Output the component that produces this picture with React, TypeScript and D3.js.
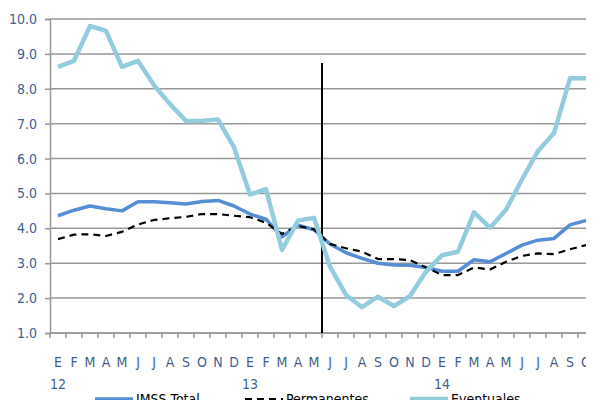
import React, { useEffect, useRef } from "react";
import * as d3 from "d3";

const months = ["E","F","M","A","M","J","J","A","S","O","N","D","E","F","M","A","M","J","J","A","S","O","N","D","E","F","M","A","M","J","J","A","S","O"];
const years = [{ idx: 0, label: "12" }, { idx: 12, label: "13" }, { idx: 24, label: "14" }];

const imssTotal = [4.36, 4.52, 4.64, 4.56, 4.5, 4.76, 4.76, 4.73, 4.7, 4.77, 4.8, 4.64, 4.41, 4.26, 3.76, 4.09, 3.96, 3.55, 3.3, 3.14, 3.0, 2.95, 2.94, 2.88, 2.77, 2.77, 3.1, 3.04, 3.28, 3.52, 3.66, 3.71, 4.1, 4.23];
const permanentes = [3.69, 3.82, 3.83, 3.78, 3.9, 4.11, 4.24, 4.29, 4.33, 4.41, 4.41, 4.36, 4.32, 4.16, 3.84, 4.07, 3.97, 3.55, 3.43, 3.33, 3.12, 3.12, 3.09, 2.88, 2.66, 2.66, 2.88, 2.82, 3.04, 3.21, 3.28, 3.26, 3.4, 3.52];
const eventuales = [8.63, 8.8, 9.8, 9.66, 8.63, 8.8, 8.1, 7.56, 7.08, 7.08, 7.12, 6.32, 4.97, 5.12, 3.38, 4.22, 4.3, 2.9, 2.09, 1.74, 2.04, 1.77, 2.06, 2.76, 3.23, 3.33, 4.46, 4.02, 4.53, 5.4, 6.22, 6.73, 8.3, 8.3];
const yTicks = [1, 2, 3, 4, 5, 6, 7, 8, 9, 10];

const series = [
  { name: "IMSS Total", values: imssTotal, color: "#558ed5", width: 3.5, dash: "" },
  { name: "Permanentes", values: permanentes, color: "#000000", width: 2.2, dash: "7,5" },
  { name: "Eventuales", values: eventuales, color: "#93cddd", width: 4.5, dash: "" },
];

const W = 594;
const H = 408;
const font = "'DejaVu Sans Condensed', 'Liberation Sans Narrow', 'Open Sans', sans-serif";
const textColor = "#3d5f91";

const Chart = () => {
  const ref = useRef<SVGSVGElement>(null);

  useEffect(() => {
    const svg = d3.select(ref.current);
    svg.selectAll("*").remove();

    const left = 50;
    const right = 594;
    const top = 19;
    const bottom = 333;

    const x = d3.scaleBand<number>().domain(d3.range(months.length)).range([left, right]);
    const y = d3.scaleLinear().domain([1, 10]).range([bottom, top]);
    const cx = (i: number) => (x(i) as number) + x.bandwidth() / 2;

    // gridlines
    svg
      .append("g")
      .selectAll("line")
      .data(yTicks)
      .enter()
      .append("line")
      .attr("x1", left)
      .attr("x2", right)
      .attr("y1", (d) => y(d))
      .attr("y2", (d) => y(d))
      .attr("stroke", "#989898")
      .attr("stroke-width", 1.5);

    // y axis
    const yAxis = d3
      .axisLeft(y)
      .tickValues(yTicks)
      .tickSize(5)
      .tickFormat((d) => (d as number).toFixed(1));
    const yg = svg.append("g").attr("transform", `translate(${left},0)`).call(yAxis);
    yg.select(".domain").attr("stroke", "#989898").attr("stroke-width", 1.5);
    yg.selectAll(".tick line").attr("stroke", "#989898").attr("stroke-width", 1.5);
    yg.selectAll("text")
      .attr("x", -13)
      .attr("fill", textColor)
      .style("font-family", font)
      .style("font-size", "14px");

    // x axis
    const xg = svg.append("g").attr("transform", `translate(0,${bottom})`);
    xg.append("line").attr("x1", left).attr("x2", right).attr("stroke", "#989898").attr("stroke-width", 1.5);
    xg.selectAll("line.tk")
      .data(d3.range(months.length + 1))
      .enter()
      .append("line")
      .attr("class", "tk")
      .attr("x1", (d) => left + d * x.bandwidth())
      .attr("x2", (d) => left + d * x.bandwidth())
      .attr("y1", 0)
      .attr("y2", 5)
      .attr("stroke", "#989898")
      .attr("stroke-width", 1.5);
    xg.selectAll("text.m")
      .data(months)
      .enter()
      .append("text")
      .attr("class", "m")
      .attr("x", (_, i) => cx(i))
      .attr("y", 34)
      .attr("text-anchor", "middle")
      .attr("fill", textColor)
      .style("font-family", font)
      .style("font-size", "14px")
      .text((d) => d);
    xg.selectAll("text.yr")
      .data(years)
      .enter()
      .append("text")
      .attr("class", "yr")
      .attr("x", (d) => cx(d.idx))
      .attr("y", 56)
      .attr("text-anchor", "middle")
      .attr("fill", textColor)
      .style("font-family", font)
      .style("font-size", "14px")
      .text((d) => d.label);

    // vertical marker between May and Jun 2013
    const mx = left + 17 * x.bandwidth();
    svg.append("line").attr("x1", mx).attr("x2", mx).attr("y1", 63).attr("y2", bottom).attr("stroke", "#000").attr("stroke-width", 2);

    // lines
    const line = d3
      .line<number>()
      .x((_, i) => cx(i))
      .y((d) => y(d));
    series.forEach((s) => {
      svg
        .append("path")
        .datum(s.values)
        .attr("fill", "none")
        .attr("stroke", s.color)
        .attr("stroke-width", s.width)
        .attr("stroke-dasharray", s.dash || null)
        .attr("stroke-linejoin", "round")
        .attr("d", line);
    });

    // legend
    const legendX = [95, 245, 410];
    const lg = svg.append("g").attr("transform", "translate(0,399)");
    series.forEach((s, i) => {
      lg.append("line")
        .attr("x1", legendX[i])
        .attr("x2", legendX[i] + 38)
        .attr("y1", 0)
        .attr("y2", 0)
        .attr("stroke", s.color)
        .attr("stroke-width", s.width)
        .attr("stroke-dasharray", s.dash || null);
      lg.append("text")
        .attr("x", legendX[i] + 41)
        .attr("y", 5)
        .attr("fill", "#000")
        .style("font-family", font)
        .style("font-size", "14px")
        .text(s.name);
    });
  }, []);

  return <svg ref={ref} width={W} height={H} style={{ display: "block" }} />;
};

export default function App() {
  return (
    <div style={{ margin: -8 }}>
      <Chart />
    </div>
  );
}
